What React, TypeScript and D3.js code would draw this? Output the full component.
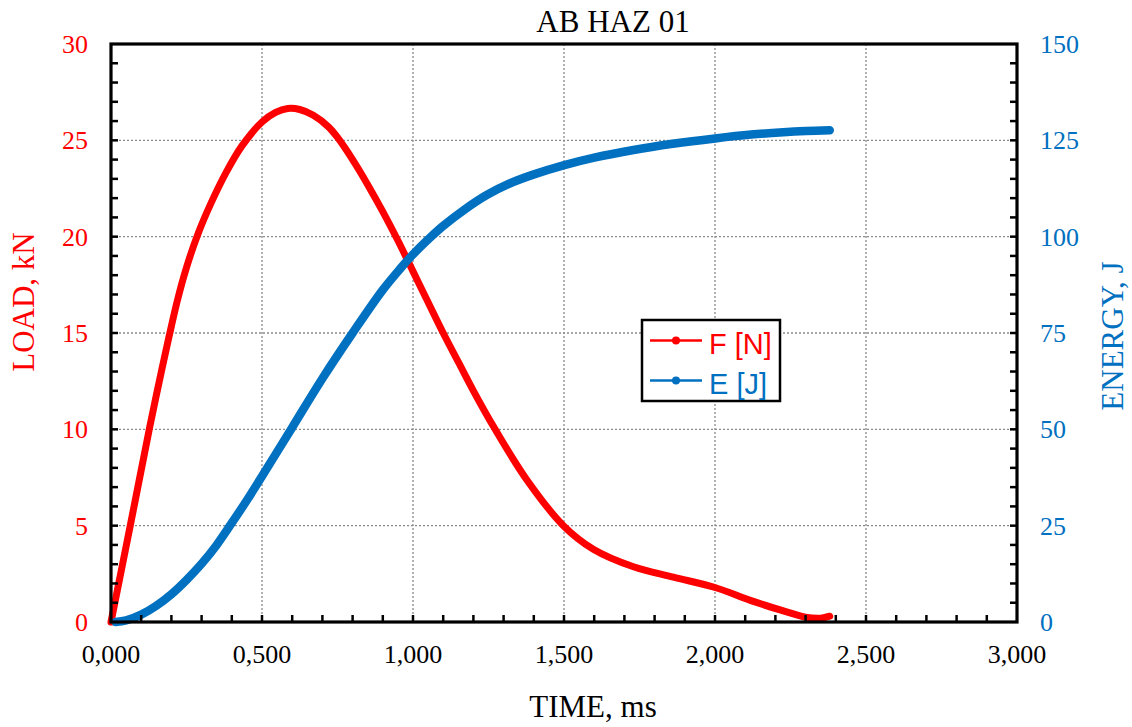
import React from "react";
import * as d3 from "d3";

const title = "AB HAZ 01";
const xTitle = "TIME, ms";
const yLeftTitle = "LOAD, kN";
const yRightTitle = "ENERGY, J";

const forceT = [0, 0.065, 0.128, 0.16, 0.192, 0.22, 0.25, 0.287, 0.33, 0.38, 0.433, 0.5, 0.545, 0.585, 0.625, 0.67, 0.72, 0.75, 0.8, 0.85, 0.9, 0.95, 1.0, 1.05, 1.1, 1.15, 1.2, 1.272, 1.376, 1.498, 1.597, 1.73, 1.862, 2.0, 2.127, 2.237, 2.3, 2.35, 2.38];
const forceV = [0, 5.1, 10.1, 12.5, 14.8, 16.7, 18.4, 20.1, 21.7, 23.3, 24.7, 25.95, 26.45, 26.65, 26.6, 26.3, 25.7, 25.15, 24.0, 22.7, 21.3, 19.8, 18.2, 16.6, 15.0, 13.5, 12.0, 10.0, 7.4, 5.0, 3.78, 2.87, 2.33, 1.79, 1.07, 0.53, 0.25, 0.2, 0.3];

const energyT = [0.015, 0.05, 0.1, 0.15, 0.2, 0.25, 0.3, 0.35, 0.4, 0.45, 0.5, 0.6, 0.7, 0.8, 0.9, 0.96, 1.0, 1.06, 1.1, 1.17, 1.244, 1.32, 1.398, 1.498, 1.6, 1.73, 1.86, 2.0, 2.12, 2.226, 2.3, 2.38];
const energyV = [0, 0.4, 1.9, 4.2, 7.2, 10.9, 15.1, 20.0, 25.7, 31.6, 37.8, 50.5, 63.2, 75.0, 86.2, 91.9, 95.4, 100.0, 102.8, 107.0, 110.8, 113.8, 116.1, 118.5, 120.5, 122.5, 124.1, 125.5, 126.5, 127.1, 127.4, 127.6];

const xTicks = [0, 0.5, 1.0, 1.5, 2.0, 2.5, 3.0];
const yLeftTicks = [0, 5, 10, 15, 20, 25, 30];
const yRightTicks = [0, 25, 50, 75, 100, 125, 150];
const legendLabels = ["F [N]", "E [J]"];

const RED = "#FF0000";
const BLUE = "#0070C0";
const SERIF = "'Liberation Serif', 'Times New Roman', serif";
const SANS = "'Liberation Sans', Arial, sans-serif";

export default function App() {
  const L = 111, R = 1017, T = 44, B = 622;
  const x = d3.scaleLinear().domain([0, 3]).range([L, R]);
  const yL = d3.scaleLinear().domain([0, 30]).range([B, T]);
  const yR = d3.scaleLinear().domain([0, 150]).range([B, T]);

  const fData = forceT.map((t, i) => [t, forceV[i]] as [number, number]);
  const eData = energyT.map((t, i) => [t, energyV[i]] as [number, number]);

  const fLine = d3.line<[number, number]>().x(d => x(d[0])).y(d => yL(d[1])).curve(d3.curveCatmullRom.alpha(0.5));
  const eLine = d3.line<[number, number]>().x(d => x(d[0])).y(d => yR(d[1])).curve(d3.curveCatmullRom.alpha(0.5));

  const fmtX = (v: number) => v.toFixed(3).replace(".", ",");
  const xMinor = d3.range(1, 30).map(i => i / 10);
  const yLMinor = d3.range(1, 30);
  const yRMinor = d3.range(1, 30).map(i => i * 5);
  const tickLen = 7;

  const legX = 642, legY = 320, legW = 138, legH = 81;

  return (
    <svg width={1132} height={727} style={{ position: "absolute", left: 0, top: 0, background: "#fff" }}>
      <rect x={0} y={0} width={1132} height={727} fill="#fff" />
      {xTicks.slice(1, -1).map(t => (
        <line key={"gx" + t} x1={x(t)} x2={x(t)} y1={T} y2={B} stroke="#8a8a8a" strokeWidth={1.3} strokeDasharray="2,2" />
      ))}
      {yLeftTicks.slice(1, -1).map(v => (
        <line key={"gy" + v} x1={L} x2={R} y1={yL(v)} y2={yL(v)} stroke="#8a8a8a" strokeWidth={1.3} strokeDasharray="2,2" />
      ))}
      <path d={fLine(fData) || ""} fill="none" stroke={RED} strokeWidth={7} strokeLinecap="round" strokeLinejoin="round" />
      <path d={eLine(eData) || ""} fill="none" stroke={BLUE} strokeWidth={8.5} strokeLinecap="round" strokeLinejoin="round" />
      {xMinor.map(t => (
        <line key={"tx" + t} x1={x(t)} x2={x(t)} y1={B} y2={B - tickLen} stroke="#000" strokeWidth={2.5} />
      ))}
      {yLMinor.map(v => (
        <line key={"tl" + v} x1={L} x2={L + tickLen} y1={yL(v)} y2={yL(v)} stroke="#000" strokeWidth={2.5} />
      ))}
      {yRMinor.map(v => (
        <line key={"tr" + v} x1={R} x2={R - tickLen} y1={yR(v)} y2={yR(v)} stroke="#000" strokeWidth={2.5} />
      ))}
      <rect x={L} y={T} width={R - L} height={B - T} fill="none" stroke="#000" strokeWidth={3.2} />
      {xTicks.map(t => (
        <text key={"lx" + t} x={x(t)} y={B + 41} textAnchor="middle" fontFamily={SERIF} fontSize={26} fill="#000">{fmtX(t)}</text>
      ))}
      {yLeftTicks.map(v => (
        <text key={"ll" + v} x={L - 23} y={yL(v) + 9} textAnchor="end" fontFamily={SERIF} fontSize={26} fill={RED}>{v}</text>
      ))}
      {yRightTicks.map(v => (
        <text key={"lr" + v} x={R + 23} y={yR(v) + 9} textAnchor="start" fontFamily={SERIF} fontSize={26} fill={BLUE}>{v}</text>
      ))}
      <text x={613} y={31.5} textAnchor="middle" fontFamily={SERIF} fontSize={31} fill="#000">{title}</text>
      <text x={593} y={717} textAnchor="middle" fontFamily={SERIF} fontSize={31} fill="#000">{xTitle}</text>
      <text transform={`translate(34,302) rotate(-90)`} textAnchor="middle" fontFamily={SERIF} fontSize={31} fill={RED}>{yLeftTitle}</text>
      <text transform={`translate(1123,336) rotate(-90)`} textAnchor="middle" fontFamily={SERIF} fontSize={31} fill={BLUE}>{yRightTitle}</text>
      <rect x={legX} y={legY} width={legW} height={legH} fill="#fff" stroke="#000" strokeWidth={2.5} />
      {legendLabels.map((lab, i) => {
        const cy = legY + 20.5 + i * 40;
        const col = i === 0 ? RED : BLUE;
        return (
          <g key={lab}>
            <line x1={legX + 8} x2={legX + 60} y1={cy} y2={cy} stroke={col} strokeWidth={2.5} />
            <circle cx={legX + 34} cy={cy} r={4} fill={col} />
            <text x={legX + 67} y={cy + 13.5} fontFamily={SANS} fontSize={29} fill={col}>{lab}</text>
          </g>
        );
      })}
    </svg>
  );
}
